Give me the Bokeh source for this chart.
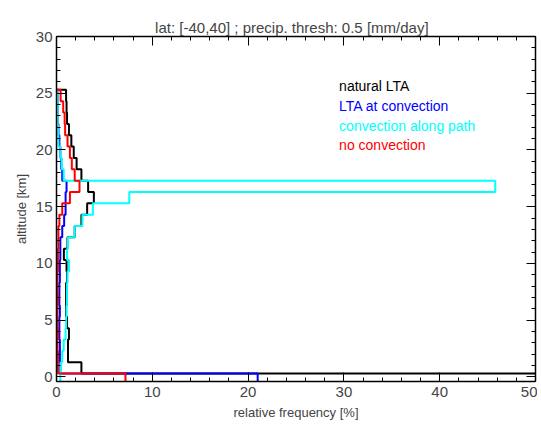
from bokeh.plotting import figure
from bokeh.models import LinearAxis, Label, FixedTicker, Range1d
from bokeh.embed import file_html
from bokeh.resources import INLINE

# altitude bins [km], bin index 0..25 (edges sit about 0.3 km above the integer)
altitude = list(range(26))

natural_lta = [60, 2.6, 1.2, 1.2, 1.3, 1.1, 1.0, 1.0, 1.0, 1.1, 1.05, 0.77, 1.15, 1.9, 2.6, 3.2,
               3.9, 3.3, 2.6, 2.1, 1.8, 1.55, 1.3, 1.1, 1.05, 1.0]
lta_convection = [21.0, 0.4, 0.35, 0.35, 0.3, 0.3, 0.35, 0.3, 0.3, 0.35, 0.35, 0.4, 0.4, 0.6, 0.8, 0.95,
                  0.95, 1.05, 0.6, 0.5, 0.4, 0.3, 0.2, 0.1, 0.1, 0.1]
conv_path = [0.4, 0.45, 0.6, 0.75, 0.95, 1.0, 1.05, 1.1, 1.1, 1.15, 1.3, 1.1, 1.2, 1.9, 2.7, 3.8,
             7.6, 45.8, 0.75, 0.55, 0.4, 0.2, 0.15, 0.1, 0.1, 0.1]
no_convection = [7.2, 0.15, 0.15, 0.1, 0.15, 0.1, 0.1, 0.15, 0.1, 0.1, 0.15, 0.15, 0.2, 0.2, 0.3, 0.6,
                 1.4, 2.4, 1.9, 1.6, 1.4, 1.15, 0.9, 0.85, 0.7, 0.43]

series = [
    ("natural LTA", natural_lta, "black"),
    ("LTA at convection", lta_convection, "blue"),
    ("convection along path", conv_path, "cyan"),
    ("no convection", no_convection, "red"),
]

FONT = "Liberation Sans"
X_TICKS = [0, 10, 20, 30, 40, 50]
Y_TICKS = [0, 5, 10, 15, 20, 25, 30]

p = figure(width=537, height=422, output_backend="svg", toolbar_location=None,
           x_range=Range1d(0, 50), y_range=Range1d(-0.4, 30),
           min_border_left=56, min_border_right=2, min_border_top=36, min_border_bottom=4)
p.grid.visible = False
p.outline_line_color = None
p.title.text = "lat: [-40,40]  ; precip. thresh:  0.5 [mm/day]"
p.title.align = "center"
p.title.text_font = FONT
p.title.text_font_size = "15px"
p.title.text_font_style = "normal"
p.title.standoff = 2

p.xaxis.axis_label = "relative frequency [%]"
p.yaxis.axis_label = "altitude [km]"
p.xaxis.ticker = FixedTicker(ticks=X_TICKS, minor_ticks=list(range(0, 51, 2)))
p.yaxis.ticker = FixedTicker(ticks=Y_TICKS, minor_ticks=list(range(0, 31)))

for side in ["right", "above"]:
    if side == "right":
        ax = LinearAxis(ticker=FixedTicker(ticks=Y_TICKS, minor_ticks=list(range(0, 31))),
                        major_label_overrides={t: "" for t in Y_TICKS})
    else:
        ax = LinearAxis(ticker=FixedTicker(ticks=X_TICKS, minor_ticks=list(range(0, 51, 2))),
                        major_label_overrides={t: "" for t in X_TICKS})
    ax.major_label_standoff = 0
    p.add_layout(ax, side)

for ax in p.axis:
    ax.axis_line_color = "black"
    ax.axis_line_width = 1.5
    ax.major_tick_in = 9
    ax.major_tick_out = 0
    ax.minor_tick_in = 4
    ax.minor_tick_out = 0
    ax.major_label_text_font = FONT
    ax.major_label_text_font_size = "15px"
    ax.axis_label_text_font = FONT
    ax.axis_label_text_font_size = "13px"
    ax.axis_label_text_font_style = "normal"
p.xaxis[0].major_label_standoff = 3
p.yaxis[0].major_label_standoff = 4
p.yaxis[0].axis_label_standoff = 4
p.xaxis[0].axis_label_standoff = 3

for name, vals, color in series:
    xs, ys = [], []
    for alt, v in zip(altitude, vals):
        xs += [v, v]
        ys += [alt - 0.7, alt + 0.3]
    xs.append(0)
    ys.append(altitude[-1] + 0.3)
    p.line(xs, ys, line_color=color, line_width=2)

for i, (name, vals, color) in enumerate(series):
    p.add_layout(Label(x=29.5, y=25.6 - i * 1.73, text=name, text_color=color,
                       text_font=FONT, text_font_size="14px", text_baseline="middle"))

open("out.html", "w").write(file_html(p, INLINE))
